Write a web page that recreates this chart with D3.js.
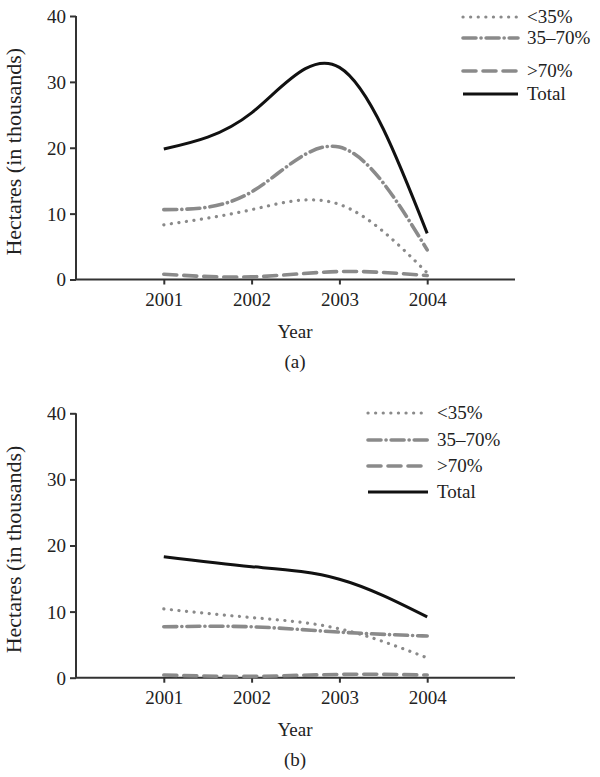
<!DOCTYPE html>
<html>
<head>
<meta charset="utf-8">
<script src="https://cdn.jsdelivr.net/npm/d3@7"></script>
<style>
  body { margin: 0; background: #fff; }
  svg text { font-family: "Liberation Serif", "DejaVu Serif", serif; fill: #222; }
</style>
</head>
<body>
<div id="chart"></div>
<script>
// data (hectares, thousands)
const years = [2001, 2002, 2003, 2004]
const yTicks = [0, 10, 20, 30, 40]
const seriesNames = ['<35%', '35\u201370%', '>70%', 'Total']

const aLow = [8.3, 10.6, 11.4, 1.0]
const aMid = [10.6, 13.3, 20.1, 4.5]
const aHigh = [0.8, 0.4, 1.2, 0.6]
const aTotal = [19.8, 25.3, 32.2, 7.0]

const bLow = [10.4, 9.1, 7.4, 3.0]
const bMid = [7.7, 7.7, 6.9, 6.3]
const bHigh = [0.4, 0.2, 0.5, 0.4]
const bTotal = [18.3, 16.8, 14.9, 9.2]

// line styles for each series
const styles = [
    { color: '#8a8a8a', width: 3.2, dash: '0.1 7.5', cap: 'round' },
    { color: '#8a8a8a', width: 3.6, dash: '13 5 0.1 5', cap: 'round' },
    { color: '#8a8a8a', width: 3.6, dash: '13 7', cap: 'round' },
    { color: '#111', width: 3, dash: null, cap: 'butt' }
]

const svg = d3.select('#chart')
    .append('svg')
    .attr('width', 600)
    .attr('height', 777)

function drawPanel(cfg) {
    const x = d3.scaleLinear().domain([2000, 2005]).range([76, 515])
    const y = d3.scaleLinear().domain([0, 40]).range([cfg.bottom, cfg.top])

    const g = svg.append('g')

    // y axis
    const yAxis = g.append('g')
        .attr('transform', 'translate(76,0)')
        .call(d3.axisLeft(y).tickValues(yTicks).tickSize(6).tickPadding(4))
    yAxis.select('.domain').attr('stroke', '#333').attr('stroke-width', 2)
        .attr('d', `M0,${cfg.bottom}V${cfg.top}`)
    yAxis.selectAll('.tick line').attr('stroke', '#333').attr('stroke-width', 2)
    yAxis.selectAll('.tick text').style('font-size', '19px')
        .attr('fill', '#222').attr('dy', '0.34em')

    // x axis
    const xAxis = g.append('g')
        .attr('transform', `translate(0,${cfg.bottom})`)
        .call(d3.axisBottom(x).tickValues(years).tickFormat(d3.format('d'))
            .tickSize(5).tickPadding(8))
    xAxis.select('.domain').attr('stroke', '#333').attr('stroke-width', 2)
        .attr('d', `M76,0H515`)
    xAxis.selectAll('.tick line').attr('stroke', '#333').attr('stroke-width', 2)
    xAxis.selectAll('.tick text').style('font-size', '19px').attr('fill', '#222')

    // axis titles
    g.append('text')
        .attr('transform', `translate(21,${(cfg.top + cfg.bottom) / 2 + 4}) rotate(-90)`)
        .attr('text-anchor', 'middle')
        .style('font-size', '22px')
        .text('Hectares (in thousands)')
    g.append('text')
        .attr('x', 295).attr('y', cfg.bottom + 58)
        .attr('text-anchor', 'middle')
        .style('font-size', '19px')
        .text('Year')
    g.append('text')
        .attr('x', 295).attr('y', cfg.bottom + 88)
        .attr('text-anchor', 'middle')
        .style('font-size', '19px')
        .text(cfg.label)

    // lines
    const line = d3.line()
        .x((d, i) => x(years[i]))
        .y(d => y(d))
        .curve(d3.curveNatural)

    cfg.series.forEach((s, k) => {
        const st = styles[k]
        g.append('path')
            .datum(s)
            .attr('d', line)
            .attr('fill', 'none')
            .attr('stroke', st.color)
            .attr('stroke-width', st.width)
            .attr('stroke-linecap', st.cap)
            .attr('stroke-dasharray', st.dash)
    })

    // legend
    const leg = g.append('g')
    seriesNames.forEach((name, k) => {
        const st = styles[k]
        const ly = cfg.legY[k]
        leg.append('line')
            .attr('x1', cfg.legX[0]).attr('x2', cfg.legX[1])
            .attr('y1', ly).attr('y2', ly)
            .attr('stroke', st.color)
            .attr('stroke-width', st.width)
            .attr('stroke-linecap', st.cap)
            .attr('stroke-dasharray', st.dash)
        leg.append('text')
            .attr('x', cfg.legX[1] + 9).attr('y', ly)
            .attr('dy', '0.33em')
            .style('font-size', '19px')
            .text(name)
    })
}

drawPanel({
    top: 16, bottom: 279.5, label: '(a)',
    series: [aLow, aMid, aHigh, aTotal],
    legX: [463, 518], legY: [17, 38, 71, 94]
})

drawPanel({
    top: 413.3, bottom: 677.7, label: '(b)',
    series: [bLow, bMid, bHigh, bTotal],
    legX: [368, 428], legY: [413, 440, 466, 492]
})
</script>
</body>
</html>
